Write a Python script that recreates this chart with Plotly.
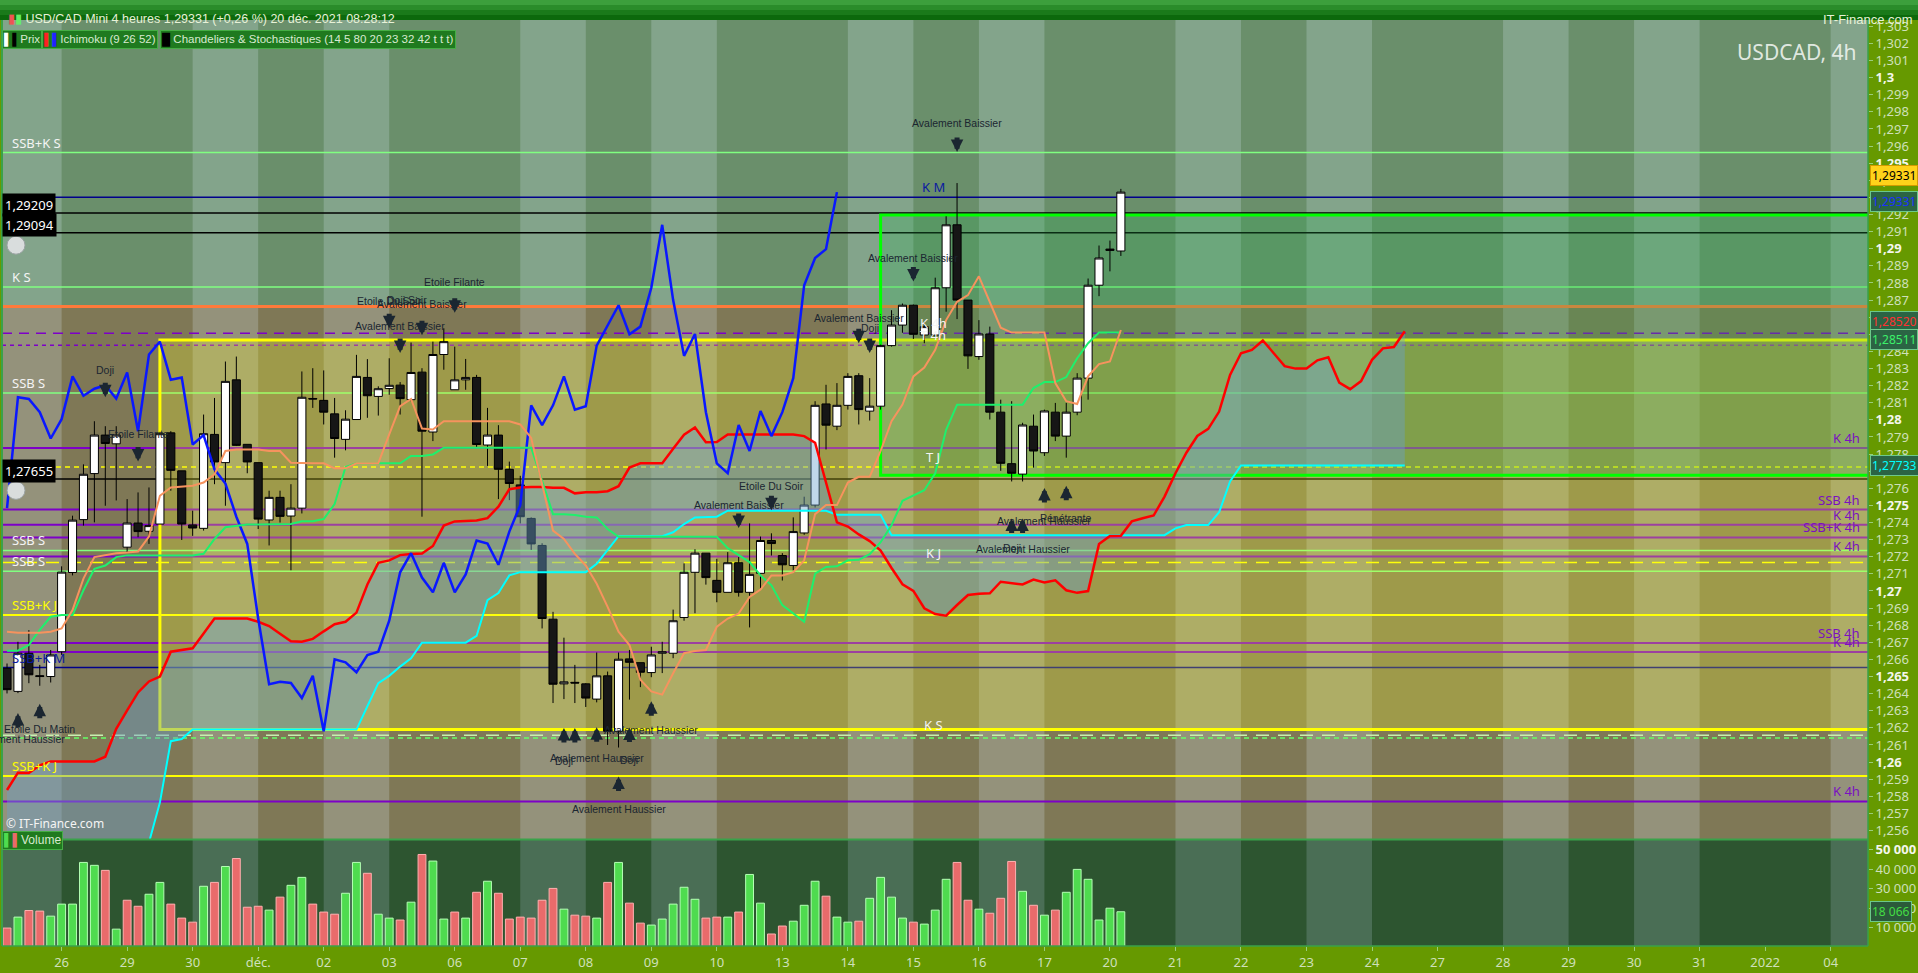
import pandas as pd
import plotly.graph_objects as go

# ---------------------------------------------------------------- data
# USD/CAD 4h candles, bar 0 = 25 Nov 2021 (last bars of that day)
opens = [
    1.26548, 1.26413, 1.26636, 1.26505, 1.26500, 1.26645, 1.27108, 1.27417, 1.27686, 1.27911,
    1.27860, 1.27256, 1.27397, 1.27349, 1.27391, 1.27924, 1.27702, 1.27386, 1.27366, 1.27915,
    1.27750, 1.28234, 1.27857, 1.27750, 1.27415, 1.27547, 1.27438, 1.27484, 1.28125, 1.28114,
    1.28035, 1.27886, 1.28002, 1.28248, 1.28137, 1.28183, 1.28203, 1.28118, 1.28279, 1.27929,
    1.28382, 1.28176, 1.28234, 1.28248, 1.27853, 1.27911, 1.27711, 1.27620, 1.27424, 1.27266,
    1.26835, 1.26457, 1.26466, 1.26457, 1.26368, 1.26504, 1.26180, 1.26603, 1.26581, 1.26523,
    1.26636, 1.26636, 1.26845, 1.27109, 1.27221, 1.27062, 1.26992, 1.27165, 1.26992, 1.27103,
    1.27295, 1.27207, 1.27149, 1.27339, 1.27502, 1.28093, 1.27963, 1.28085, 1.28258, 1.28051,
    1.28080, 1.28434, 1.28554, 1.28670, 1.28496, 1.28496, 1.28772, 1.29140, 1.28700, 1.28370,
    1.28502, 1.28045, 1.27744, 1.27683, 1.27963, 1.27808, 1.28045, 1.27905, 1.28045, 1.28244,
    1.28787, 1.28990, 1.28987,
]
highs = [
    1.26576, 1.26703, 1.26771, 1.26568, 1.26655, 1.27144, 1.27440, 1.27740, 1.27992, 1.27963,
    1.27963, 1.27537, 1.27576, 1.27605, 1.27930, 1.27934, 1.27702, 1.27469, 1.28031, 1.28128,
    1.28341, 1.28370, 1.27857, 1.27750, 1.27586, 1.27586, 1.27624, 1.28283, 1.28302, 1.28289,
    1.28128, 1.28056, 1.28380, 1.28355, 1.28196, 1.28360, 1.28221, 1.28452, 1.28302, 1.28457,
    1.28535, 1.28428, 1.28356, 1.28263, 1.28070, 1.27969, 1.27756, 1.27673, 1.27430, 1.27279,
    1.26878, 1.26727, 1.26568, 1.26461, 1.26640, 1.26529, 1.26640, 1.26655, 1.26581, 1.26674,
    1.26703, 1.26891, 1.27161, 1.27244, 1.27221, 1.27188, 1.27227, 1.27198, 1.27395, 1.27318,
    1.27337, 1.27221, 1.27430, 1.27551, 1.28109, 1.28205, 1.28215, 1.28273, 1.28273, 1.28244,
    1.28440, 1.28641, 1.28680, 1.28674, 1.28574, 1.28831, 1.29190, 1.29384, 1.28700, 1.28583,
    1.28545, 1.28118, 1.28109, 1.27983, 1.28031, 1.28060, 1.28099, 1.28099, 1.28273, 1.28826,
    1.29019, 1.29048, 1.29350,
]
lows = [
    1.26401, 1.26403, 1.26461, 1.26446, 1.26465, 1.26626, 1.27091, 1.27382, 1.27401, 1.27498,
    1.27529, 1.27227, 1.27314, 1.27275, 1.27391, 1.27586, 1.27298, 1.27322, 1.27353, 1.27624,
    1.27498, 1.27847, 1.27688, 1.27362, 1.27266, 1.27400, 1.27121, 1.27453, 1.28070, 1.27973,
    1.27779, 1.27822, 1.28002, 1.28012, 1.28025, 1.28147, 1.28031, 1.28109, 1.27434, 1.27876,
    1.28293, 1.28176, 1.28176, 1.27837, 1.27731, 1.27537, 1.27531, 1.27395, 1.27240, 1.26781,
    1.26345, 1.26368, 1.26345, 1.26322, 1.26349, 1.26100, 1.26085, 1.26365, 1.26438, 1.26496,
    1.26520, 1.26607, 1.26826, 1.26870, 1.27037, 1.26934, 1.26992, 1.26967, 1.26787, 1.27014,
    1.27207, 1.27061, 1.27120, 1.27328, 1.27488, 1.27827, 1.27940, 1.28060, 1.27973, 1.27996,
    1.28060, 1.28428, 1.28509, 1.28473, 1.28448, 1.28479, 1.28632, 1.28589, 1.28298, 1.28351,
    1.28002, 1.27702, 1.27640, 1.27640, 1.27721, 1.27789, 1.27876, 1.27779, 1.28027, 1.28118,
    1.28723, 1.28868, 1.28958,
]
closes = [
    1.26423, 1.26636, 1.26510, 1.26500, 1.26626, 1.27110, 1.27414, 1.27682, 1.27911, 1.27862,
    1.27911, 1.27397, 1.27347, 1.27382, 1.27919, 1.27705, 1.27391, 1.27368, 1.27919, 1.27754,
    1.28225, 1.27851, 1.27754, 1.27420, 1.27547, 1.27436, 1.27484, 1.28132, 1.28122, 1.28045,
    1.27891, 1.28004, 1.28254, 1.28141, 1.28182, 1.28202, 1.28124, 1.28277, 1.27934, 1.28382,
    1.28457, 1.28234, 1.28248, 1.27856, 1.27911, 1.27711, 1.27628, 1.27434, 1.27275, 1.26839,
    1.26455, 1.26469, 1.26462, 1.26374, 1.26504, 1.26180, 1.26601, 1.26583, 1.26525, 1.26626,
    1.26645, 1.26826, 1.27109, 1.27221, 1.27078, 1.26992, 1.27165, 1.26992, 1.27097, 1.27295,
    1.27277, 1.27153, 1.27347, 1.27502, 1.28085, 1.27969, 1.28085, 1.28254, 1.28060, 1.28080,
    1.28434, 1.28554, 1.28670, 1.28500, 1.28545, 1.28772, 1.29140, 1.28700, 1.28374, 1.28502,
    1.28045, 1.27746, 1.27688, 1.27970, 1.27818, 1.28052, 1.27905, 1.28045, 1.28244, 1.28787,
    1.28946, 1.28998, 1.29331,
]
volumes = [
    9660, 15300, 18700, 18400, 15800, 22000, 22000, 43500, 42000, 39400,
    9100, 24000, 20900, 27100, 33200, 22000, 14800, 12700, 31200, 33200,
    41400, 45500, 20400, 20900, 18900, 25600, 31700, 35800, 22000, 17900,
    16800, 27600, 43500, 37900, 16800, 14800, 13800, 23000, 47600, 44200,
    14300, 17900, 14800, 28100, 33800, 27600, 14300, 15300, 14800, 24000,
    30100, 19400, 16300, 15800, 14800, 33200, 43500, 22500, 12200, 11200,
    14300, 22000, 30700, 24500, 14800, 15300, 15300, 17900, 37300, 22500,
    6600, 10700, 13200, 21400, 33800, 26100, 15300, 12700, 13200, 25000,
    35800, 25600, 14800, 12700, 11700, 18900, 34800, 43500, 24000, 19400,
    17300, 25000, 44000, 28600, 21400, 16300, 18900, 28100, 39900, 34800,
    13800, 19900, 18066,
]

# Ichimoku (9 26 52), one value per bar
tenkan = [
    1.26762, 1.26756, 1.26756, 1.26756, 1.26762, 1.26781, 1.26888, 1.27072, 1.27198, 1.27208,
    1.27221, 1.27225, 1.27231, 1.27318, 1.27556, 1.27605, 1.27609, 1.27615, 1.27634, 1.27682,
    1.27818, 1.27827, 1.27827, 1.27827, 1.27818, 1.27818, 1.27750, 1.27746, 1.27746, 1.27746,
    1.27717, 1.27717, 1.27746, 1.27746, 1.27746, 1.27915, 1.28080, 1.28122, 1.27949, 1.27944,
    1.27992, 1.27992, 1.27992, 1.27992, 1.27992, 1.27992, 1.27992, 1.27973, 1.27895, 1.27624,
    1.27353, 1.27304, 1.27217, 1.27149, 1.27042, 1.26907, 1.26762, 1.26684, 1.26481, 1.26413,
    1.26394, 1.26519, 1.26636, 1.26649, 1.26655, 1.26791, 1.26839, 1.26868, 1.26965, 1.27008,
    1.27091, 1.27091, 1.27110, 1.27179, 1.27449, 1.27502, 1.27502, 1.27634, 1.27667, 1.27667,
    1.27818, 1.27992, 1.28089, 1.28254, 1.28306, 1.28409, 1.28583, 1.28690, 1.28729, 1.28839,
    1.28690, 1.28539, 1.28510, 1.28510, 1.28510, 1.28510, 1.28215, 1.28109, 1.28093, 1.28254,
    1.28326, 1.28341, 1.28525,
]
kijun = [
    1.26651, 1.26651, 1.26684, 1.26772, 1.26849, 1.26859, 1.26859, 1.27004, 1.27130, 1.27149,
    1.27198, 1.27208, 1.27208, 1.27208, 1.27208, 1.27208, 1.27208, 1.27208, 1.27217, 1.27304,
    1.27372, 1.27382, 1.27388, 1.27388, 1.27388, 1.27388, 1.27391, 1.27407, 1.27407, 1.27420,
    1.27508, 1.27725, 1.27746, 1.27746, 1.27746, 1.27746, 1.27746, 1.27789, 1.27789, 1.27798,
    1.27837, 1.27837, 1.27837, 1.27837, 1.27837, 1.27837, 1.27837, 1.27837, 1.27837, 1.27644,
    1.27449, 1.27449, 1.27444, 1.27434, 1.27430, 1.27362, 1.27317, 1.27317, 1.27317, 1.27317,
    1.27317, 1.27317, 1.27317, 1.27317, 1.27317, 1.27317, 1.27250, 1.27208, 1.27169, 1.27091,
    1.27033, 1.26917, 1.26868, 1.26820, 1.27101, 1.27140, 1.27144, 1.27179, 1.27182, 1.27215,
    1.27285, 1.27384, 1.27527, 1.27558, 1.27589, 1.27688, 1.27942, 1.28089, 1.28089, 1.28089,
    1.28089, 1.28089, 1.28089, 1.28089, 1.28186, 1.28221, 1.28221, 1.28250, 1.28360, 1.28448,
    1.28510, 1.28510, 1.28510,
]
# senkou A for the first 26 displaced bars (its inputs are off screen)
senkou_a_head = [
    1.25837, 1.25938, 1.25936, 1.25981, 1.26004, 1.26004, 1.26004, 1.26004, 1.26004, 1.26031,
    1.26194, 1.26302, 1.26407, 1.26471, 1.26500, 1.26645, 1.26657, 1.26665, 1.26752, 1.26839,
    1.26839, 1.26839, 1.26839, 1.26820, 1.26795, 1.26750,
]
# senkou B, bars 0..128 (displaced 26 bars forward)
senkou_b = [
    1.25450, 1.25450, 1.25450, 1.25450, 1.25450, 1.25450, 1.25450, 1.25450, 1.25450, 1.25450,
    1.25450, 1.25450, 1.25480, 1.25530, 1.25763, 1.26122, 1.26135, 1.26190, 1.26190, 1.26190,
    1.26190, 1.26190, 1.26190, 1.26190, 1.26190, 1.26190, 1.26190, 1.26190, 1.26190, 1.26190,
    1.26190, 1.26190, 1.26190, 1.26326, 1.26461, 1.26504, 1.26558, 1.26606, 1.26698, 1.26698,
    1.26698, 1.26698, 1.26698, 1.26737, 1.26946, 1.26988, 1.27091, 1.27110, 1.27110, 1.27110,
    1.27110, 1.27110, 1.27110, 1.27110, 1.27159, 1.27238, 1.27320, 1.27320, 1.27320, 1.27320,
    1.27320, 1.27343, 1.27391, 1.27430, 1.27433, 1.27434, 1.27469, 1.27469, 1.27469, 1.27469,
    1.27469, 1.27469, 1.27469, 1.27469, 1.27469, 1.27469, 1.27445, 1.27445, 1.27445, 1.27445,
    1.27445, 1.27326, 1.27326, 1.27326, 1.27326, 1.27326, 1.27326, 1.27326, 1.27326, 1.27326,
    1.27326, 1.27326, 1.27326, 1.27326, 1.27326, 1.27326, 1.27326, 1.27326, 1.27326, 1.27326,
    1.27326, 1.27326, 1.27326, 1.27326, 1.27326, 1.27326, 1.27326, 1.27366, 1.27385, 1.27385,
    1.27385, 1.27460, 1.27640, 1.27733, 1.27733, 1.27733, 1.27733, 1.27733, 1.27733, 1.27733,
    1.27733, 1.27733, 1.27733, 1.27733, 1.27733, 1.27733, 1.27733, 1.27733, 1.27733,
]

# trading days on the time axis (the first one is only partly on screen)
days = pd.bdate_range("2021-11-25", "2022-01-04")

# horizontal levels: (price, kind)
levels = [
    (1.29562, "green"), (1.29301, "navy"), (1.29209, "black"), (1.29094, "black"),
    (1.28777, "green"), (1.28663, "orange"), (1.28506, "purple_dash"), (1.28436, "purple_dot"),
    (1.28157, "green"), (1.27835, "purple"), (1.27725, "yellow_dot"), (1.27655, "black"),
    (1.27476, "purple"), (1.27387, "purple"), (1.27313, "purple"), (1.27237, "green"),
    (1.27202, "purple"), (1.27166, "yellow_dash"), (1.27115, "green"), (1.26859, "yellow"),
    (1.26696, "purple"), (1.26644, "purple"), (1.26552, "navy"), (1.26156, "pale_dash"),
    (1.26141, "green_dot"), (1.25919, "yellow"), (1.25770, "purple"),
]
left_labels = [
    ("SSB+K S", 1.29562, "white"), ("K S", 1.28777, "white"), ("SSB S", 1.28157, "white"),
    ("SSB S", 1.27237, "white"), ("SSB S", 1.27115, "white"), ("SSB+K J", 1.26859, "yellow"),
    ("SSB+K M", 1.26552, "navy"), ("SSB+K J", 1.25919, "yellow"),
]
mid_labels = [
    ("K M", 1.29301, "navy"), ("K 4h", 1.28506, "white"), ("T 4h", 1.28436, "white"),
    ("T J", 1.27725, "white"), ("K J", 1.27166, "white"), ("K S", 1.26156, "white"),
]
right_labels = [
    ("K 4h", 1.27835), ("SSB 4h", 1.27476), ("K 4h", 1.27387), ("SSB+K 4h", 1.27313),
    ("K 4h", 1.27202), ("SSB 4h", 1.26696), ("K 4h", 1.26644), ("K 4h", 1.25770),
]
value_boxes = [("1,29209", 1.29209), ("1,29094", 1.29094), ("1,27655", 1.27655)]

# candle pattern marks: bar, name
bear_marks = [
    (87, "Avalement Baissier"), (83, "Avalement Baissier"), (78, "Avalement Baissier"),
    (79, "Doji"), (41, "Etoile Filante"), (35, "Etoile Du Soir"), (38, "Avalement Baissier"),
    (36, "Avalement Baissier"), (9, "Doji"), (12, "Etoile Filante"),
    (67, "Avalement Baissier"), (70, "Etoile Du Soir"),
]
bull_marks = [
    (1, "Avalement Haussier"), (3, "Etoile Du Matin"), (51, "Doji"), (52, ""),
    (54, "Avalement Haussier"), (57, "Doji"), (59, "Avalement Haussier"),
    (56, "Avalement Haussier"), (95, "Avalement Haussier"), (97, "Pénétrante"),
    (92, "Doji"), (93, "Avalement Haussier"),
]

# ---------------------------------------------------------------- derived
bars = list(range(len(closes)))
lead = list(range(len(senkou_b)))
senkou_a = senkou_a_head + [(t + k) / 2 for t, k in zip(tenkan, kijun)]
chikou = closes[26:]
vol_fill = ["#e96b6b"] + ["#4fdb4f" if c >= p else "#e96b6b" for p, c in zip(closes, closes[1:])]
vol_edge = ["#ffb0b0" if c == "#e96b6b" else "#b4ffb4" for c in vol_fill]

tick_pos = [5 + 6 * (i - 1) for i in range(len(days))]
months = {1: "janv.", 11: "nov.", 12: "déc."}
tick_txt = []
for i, d in enumerate(days):
    prev = days[i - 1] if i else d
    if d.year != prev.year:
        tick_txt.append(str(d.year))
    elif d.month != prev.month:
        tick_txt.append(months[d.month])
    else:
        tick_txt.append(f"{d.day:02d}")

price_ticks = [round(1.256 + i / 1000, 3) for i in range(48)]
price_txt = []
for v in price_ticks:
    s = f"{v:.3f}".rstrip("0").replace(".", ",")
    if round(v * 1000) % 5 == 0:
        s = f"<b><span style='color:#f4f6ec'>{s}</span></b>"
    price_txt.append(s)
vol_ticks = [10000, 20000, 30000, 40000, 50000]
vol_txt = [f"{v:,}".replace(",", " ") for v in vol_ticks]
vol_txt[-1] = f"<b><span style='color:#f4f6ec'>{vol_txt[-1]}</span></b>"

# ---------------------------------------------------------------- figure
W, H = 1918, 973
ML, MR, MT, MB = 2, 50, 20, 22
PW, PH = W - ML - MR, H - MT - MB
VOL_H = 107 / PH
Y_RANGE = [1.25547, 1.30337]
X_RANGE = [-0.46, 170.42]


def px(x):
    return (x - ML) / PW


def py(y):
    return (H - MB - y) / PH


fig = go.Figure()

# cloud
fig.add_trace(go.Scatter(x=lead, y=senkou_b, mode="lines", line=dict(color="#00ffff", width=2)))
fig.add_trace(go.Scatter(x=lead, y=senkou_a, mode="lines", line=dict(color="#ff0000", width=2.5),
                         fill="tonexty", fillcolor="rgba(105,160,205,0.42)"))
fig.add_trace(go.Scatter(x=bars[:len(chikou)], y=chikou, mode="lines", line=dict(color="#0a18ff", width=2.5)))
fig.add_trace(go.Scatter(x=bars, y=kijun, mode="lines", line=dict(color="#1ef06c", width=2)))
fig.add_trace(go.Scatter(x=bars, y=tenkan, mode="lines", line=dict(color="#f6935e", width=2)))
fig.add_trace(go.Candlestick(
    x=bars, open=opens, high=highs, low=lows, close=closes, whiskerwidth=0,
    increasing=dict(fillcolor="#ffffff", line=dict(color="#000000", width=1)),
    decreasing=dict(fillcolor="#161616", line=dict(color="#000000", width=1)),
))
fig.add_trace(go.Bar(x=bars, y=volumes, width=0.72, xaxis="x2", yaxis="y2",
                     marker=dict(color=vol_fill, line=dict(color=vol_edge, width=1))))

shapes = []
# horizontal zones
shapes.append(dict(type="rect", xref="x domain", yref="y", x0=0, x1=1, y0=1.28663, y1=1.31,
                   fillcolor="#6a8f6b", line_width=0, layer="below"))
shapes.append(dict(type="rect", xref="x domain", yref="y", x0=0, x1=1, y0=1.25, y1=1.28663,
                   fillcolor="#7f7856", line_width=0, layer="below"))
# Tuesday / Thursday shading
for d, x0 in zip(days, tick_pos):
    if d.weekday() in (1, 3):
        shapes.append(dict(type="rect", xref="x", yref="y domain", x0=x0, x1=x0 + 6, y0=0, y1=1,
                           fillcolor="rgba(225,240,255,0.22)", line_width=0, layer="below"))
        shapes.append(dict(type="rect", xref="x", yref="y2 domain", x0=x0, x1=x0 + 6, y0=0, y1=1,
                           fillcolor="rgba(210,225,255,0.18)", line_width=0, layer="below"))
# drawn boxes
shapes.append(dict(type="rect", xref="x", yref="y", x0=14, x1=200, y0=1.2619, y1=1.28467,
                   fillcolor="rgba(251,255,38,0.25)", line=dict(color="#ffff00", width=3), layer="below"))
shapes.append(dict(type="rect", xref="x", yref="y", x0=80, x1=200, y0=1.27676, y1=1.29198,
                   fillcolor="rgba(40,175,80,0.25)", line=dict(color="#00ff00", width=3), layer="below"))

line_styles = {
    "green": ("#80ff80", "solid", 1.5),
    "navy": ("#00008b", "solid", 1.5),
    "black": ("#000000", "solid", 1.5),
    "orange": ("#ff7a3a", "solid", 3),
    "purple": ("#7d00c8", "solid", 2),
    "purple_dash": ("#7d00c8", "10px,7px", 1.5),
    "purple_dot": ("#7d00c8", "4px,4px", 1.5),
    "yellow": ("#ffff00", "solid", 2),
    "yellow_dot": ("#ffff00", "5px,4px", 1.5),
    "yellow_dash": ("#ffff00", "13px,9px", 1.5),
    "pale_dash": ("#c8f0b0", "13px,9px", 1.5),
    "green_dot": ("#66ff66", "5px,4px", 1.5),
}
for price, kind in levels:
    col, dash, w = line_styles[kind]
    shapes.append(dict(type="line", xref="x domain", yref="y", x0=0, x1=1, y0=price, y1=price,
                       line=dict(color=col, width=w, dash=dash), layer="below"))

# panel frame
frame = "#3aa24a"
shapes.append(dict(type="line", xref="paper", yref="paper", x0=0, x1=1, y0=VOL_H, y1=VOL_H,
                   line=dict(color=frame, width=2)))
shapes.append(dict(type="line", xref="paper", yref="paper", x0=0, x1=0, y0=0, y1=1,
                   line=dict(color=frame, width=2)))
shapes.append(dict(type="line", xref="paper", yref="paper", x0=1, x1=1, y0=0, y1=1,
                   line=dict(color=frame, width=1.5)))
shapes.append(dict(type="line", xref="paper", yref="paper", x0=0, x1=1, y0=0, y1=0,
                   line=dict(color=frame, width=1.5)))

# title bar
bands = ["#3c9f3c", "#2a8c2a", "#1a7a1a", "#0c690c"]
for i, c in enumerate(bands):
    shapes.append(dict(type="rect", xref="paper", yref="paper", x0=px(0), x1=px(W),
                       y0=py(5 * (i + 1)), y1=py(5 * i), fillcolor=c, line_width=0))

# bells
for off in [(-1.5, 16.5, 1.29094), (-21.5, -3.5, 1.29094), (-20.5, -2.5, 1.27655)]:
    shapes.append(dict(type="circle", xref="paper", yref="y", xsizemode="pixel", ysizemode="pixel",
                       xanchor=0, x0=5, x1=23, yanchor=off[2], y0=off[0], y1=off[1],
                       fillcolor="#d9dddd", line=dict(color="#9aa2a2", width=1)))

ann = []
label_colors = {"white": "#f4f4f4", "yellow": "#ffff00", "navy": "#0a1aa0"}
for txt, price, col in left_labels:
    ann.append(dict(x=px(10), xref="paper", y=price, yref="y", text=txt, showarrow=False,
                    xanchor="left", yanchor="bottom", yshift=-1,
                    font=dict(family="Noto Sans", size=13, color=label_colors[col])))
for txt, price, col in mid_labels:
    ann.append(dict(x=84.8, xref="x", y=price, yref="y", text=txt, showarrow=False,
                    xanchor="center", yanchor="bottom", yshift=-1,
                    font=dict(family="Noto Sans", size=13, color=label_colors[col])))
for txt, price in right_labels:
    ann.append(dict(x=px(1862), xref="paper", y=price, yref="y", text=txt, showarrow=False,
                    xanchor="right", yanchor="bottom", yshift=-1,
                    font=dict(family="Noto Sans", size=13, color="#7a10c0")))
for txt, price in value_boxes:
    ann.append(dict(x=px(2), xref="paper", y=price, yref="y", text=txt, showarrow=False,
                    xanchor="left", yanchor="bottom", yshift=-4, bgcolor="#000000", borderpad=2,
                    font=dict(family="Noto Sans", size=13, color="#ffffff")))

# pattern marks
mark_font = dict(family="Liberation Sans", size=10.5, color="#1b2631")
bear_place = [(31, 60), (23, 47), (30, 55), (25, 50), (34, 65), (30, 57), (33, 64), (29, 56),
              (29, 56), (31, 58), (29, 52), (23, 47)]
bull_place = [(20, 46), (18, 43), (29, 62), (25, None), (25, 56), (28, 60), (24, 53), (29, 61),
              (32, 65), (28, 60), (37, 67), (37, 68)]
for (k, name), (ag, tg) in zip(bear_marks, bear_place):
    ann.append(dict(x=k, y=highs[k], xref="x", yref="y", text="", showarrow=True, ax=0, ay=-16,
                    yshift=ag, arrowhead=2, arrowsize=0.5, arrowwidth=5, arrowcolor="#1b2631"))
    ann.append(dict(x=k, y=highs[k], xref="x", yref="y", text=name, showarrow=False,
                    yshift=tg, font=mark_font))
ann.append(dict(x=36.6, y=highs[37], xref="x", yref="y", text="Doji Soir", showarrow=False,
                yshift=43, font=mark_font))
for (k, name), (ag, tg) in zip(bull_marks, bull_place):
    ann.append(dict(x=k, y=lows[k], xref="x", yref="y", text="", showarrow=True, ax=0, ay=16,
                    yshift=-ag, arrowhead=2, arrowsize=0.5, arrowwidth=5, arrowcolor="#1b2631"))
    if tg:
        ann.append(dict(x=k, y=lows[k], xref="x", yref="y", text=name, showarrow=False,
                        yshift=-tg, font=mark_font))

# price tags on the axis
tag_x = px(1870)
tags = [
    ("1,28520", 1.28520, 9, "#ff3030", "#2b6444"),
    ("1,28511", 1.28511, -7, "#3cf06a", "#2b6444"),
    ("1,27733", 1.27733, 0, "#00ffff", "#2b6444"),
    ("1,29331", closes[-1], -9, "#1a30ff", "#2b6444"),
    ("1,29331", closes[-1], 17, "#000000", "#ffd21a"),
]
for txt, price, shift, fc, bg in tags:
    ann.append(dict(x=tag_x, xref="paper", y=price, yref="y", text=txt, showarrow=False,
                    xanchor="left", yshift=shift, bgcolor=bg,
                    bordercolor="#6cc98a" if bg != "#ffd21a" else "#d49a00",
                    borderwidth=1, borderpad=1, font=dict(family="Noto Sans", size=12, color=fc)))
ann.append(dict(x=tag_x, xref="paper", y=volumes[-1], yref="y2", text="18 066", showarrow=False,
                xanchor="left", bgcolor="#2b5a3a", bordercolor="#6cc98a", borderwidth=1, borderpad=1,
                font=dict(family="Noto Sans", size=12, color="#44dd44")))

# headers and legends
head_font = "Liberation Sans"
ann.append(dict(x=px(6), xref="paper", y=py(10), yref="paper", showarrow=False, xanchor="left",
                text="<span style='color:#e55'>▮</span><span style='color:#6e6'>▮</span> "
                     "USD/CAD Mini 4 heures 1,29331 (+0,26 %) 20 déc. 2021 08:28:12",
                font=dict(family=head_font, size=12.5, color="#e8f2d8")))
ann.append(dict(x=px(1915), xref="paper", y=py(10), yref="paper", showarrow=False, xanchor="right",
                text="IT-Finance.com", font=dict(family=head_font, size=13, color="#e8f2d8")))
legend_boxes = [
    (2, "<span style='color:#fff'>▌</span><span style='color:#000'>▌</span>Prix"),
    (42, "<span style='color:#f22'>▌</span><span style='color:#22f'>▌</span>Ichimoku (9 26 52)"),
    (160, "<span style='color:#000'>█</span> Chandeliers &amp; Stochastiques (14 5 80 20 23 32 42 t t t)"),
]
for x0, txt in legend_boxes:
    ann.append(dict(x=px(x0), xref="paper", y=py(30.5), yref="paper", text=txt, showarrow=False,
                    xanchor="left", bgcolor="#1f7a1f", bordercolor="#45ad45", borderwidth=1, borderpad=1,
                    font=dict(family=head_font, size=11.5, color="#d8ead0")))
ann.append(dict(x=px(2), xref="paper", y=py(854), yref="paper", showarrow=False, xanchor="left",
                text="<span style='color:#4fdb4f'>▌</span><span style='color:#e96b6b'>▌</span>Volume",
                bgcolor="#1f7a1f", bordercolor="#45ad45", borderwidth=1, borderpad=1,
                font=dict(family=head_font, size=12, color="#d8ead0")))
ann.append(dict(x=px(1858), xref="paper", y=py(36), yref="paper", showarrow=False, xanchor="right",
                text="USDCAD, 4h", font=dict(family="Noto Sans", size=21, color="rgba(240,244,240,0.9)")))
ann.append(dict(x=px(4), xref="paper", y=py(838), yref="paper", showarrow=False, xanchor="left",
                text="© IT-Finance.com", font=dict(family="Noto Sans", size=12, color="#f4f4f4")))

axis_font = dict(family="Noto Sans", size=13, color="#cfe0ba")
fig.update_layout(
    width=W, height=H,
    margin=dict(l=ML, r=MR, t=MT, b=MB),
    paper_bgcolor="#669900",
    plot_bgcolor="#2d5530",
    showlegend=False,
    hovermode=False,
    boxgap=0.14, boxgroupgap=0.14,
    shapes=shapes,
    annotations=ann,
    xaxis=dict(domain=[0, 1], anchor="y", range=X_RANGE, showticklabels=False, showgrid=False,
               zeroline=False, rangeslider=dict(visible=False), fixedrange=True),
    xaxis2=dict(domain=[0, 1], anchor="y2", range=X_RANGE, tickvals=tick_pos, ticktext=tick_txt,
                ticks="outside", ticklen=4, tickcolor="#9acd7a", showgrid=False, zeroline=False,
                tickfont=axis_font),
    yaxis=dict(domain=[VOL_H, 1], range=Y_RANGE, side="right", tickvals=price_ticks,
               ticktext=price_txt, ticks="outside", ticklen=4, tickcolor="#9acd7a",
               showgrid=False, zeroline=False, tickfont=axis_font),
    yaxis2=dict(domain=[0, VOL_H], range=[410, 55282], side="right", anchor="x2",
                tickvals=vol_ticks, ticktext=vol_txt, ticks="outside", ticklen=4,
                tickcolor="#9acd7a", showgrid=False, zeroline=False, tickfont=axis_font),
)

fig.write_html("out.html", config={"displayModeBar": False},
               post_script="document.body.style.margin='0';document.body.style.overflow='hidden';")
